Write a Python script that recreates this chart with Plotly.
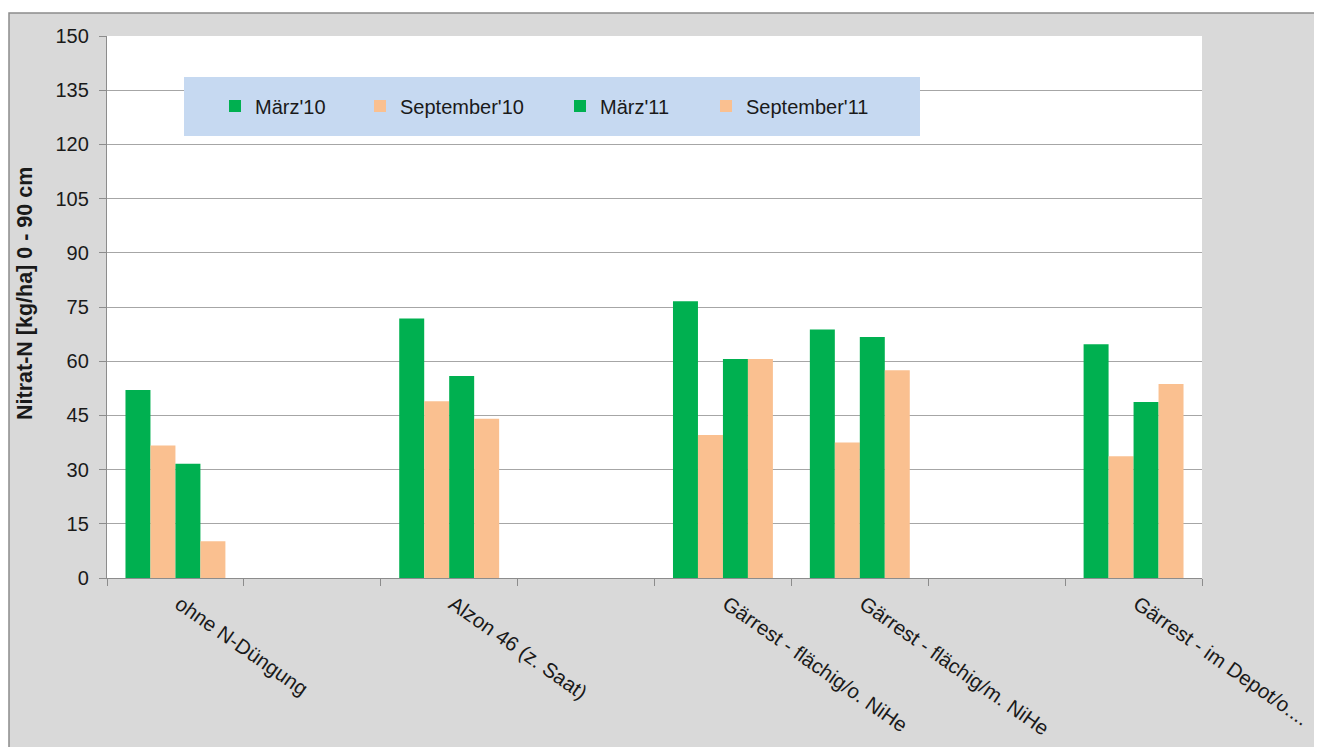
import plotly.graph_objects as go

categories = ["ohne N-Düngung", " ", "Alzon 46 (z. Saat)", "  ",
              "Gärrest - flächig/o. NiHe", "Gärrest - flächig/m. NiHe", "   ",
              "Gärrest - im Depot/o...."]
data_categories = ["ohne N-Düngung", "Alzon 46 (z. Saat)",
                   "Gärrest - flächig/o. NiHe", "Gärrest - flächig/m. NiHe",
                   "Gärrest - im Depot/o...."]
series_names = ["März'10", "September'10", "März'11", "September'11"]
maerz10 = [52.0, 71.8, 76.6, 68.8, 64.7]
sept10 = [36.7, 48.9, 39.6, 37.5, 33.7]
maerz11 = [31.6, 55.9, 60.6, 66.7, 48.7]
sept11 = [10.2, 44.1, 60.6, 57.5, 53.7]
series_values = [maerz10, sept10, maerz11, sept11]
series_colors = ["#00b050", "#fac090", "#00b050", "#fac090"]
y_ticks = [0, 15, 30, 45, 60, 75, 90, 105, 120, 135, 150]

OFF = 8  # page body margin
W, H = 1322 - OFF, 747 - OFF
L, R, T, B = 107 - OFF, 1202 - OFF, 36 - OFF, 578 - OFF

fig = go.Figure()
legend_ids = ["legend", "legend2", "legend3", "legend4"]
legend_px = [236, 381, 581, 727]
for name, vals, col, lid in zip(series_names, series_values, series_colors, legend_ids):
    fig.add_trace(go.Bar(x=data_categories, y=vals, name=name,
                         marker=dict(color=col, line=dict(width=0)),
                         legend=lid, showlegend=True))

def px_to_paper_x(px):
    return (px - OFF - L) / (R - L)

def px_to_paper_y(py):
    return (B - (py - OFF)) / (B - T)

legend_kw = {}
for lid, pxc in zip(legend_ids, legend_px):
    legend_kw[lid] = dict(xref="paper", yref="paper",
                          x=px_to_paper_x(pxc - 21), y=px_to_paper_y(106),
                          xanchor="left", yanchor="middle",
                          bgcolor="rgba(0,0,0,0)", borderwidth=0,
                          font=dict(family="Liberation Sans, Arial", size=20, color="#1a1a1a"),
                          orientation="h", visible=True)

grid_col = "#a6a6a6"
fig.update_layout(
    width=W, height=H,
    margin=dict(l=L, r=W - R, t=T, b=H - B, autoexpand=False),
    paper_bgcolor="white",
    plot_bgcolor="white",
    barmode="group",
    bargap=0.27,
    bargroupgap=0,
    showlegend=True,
    font=dict(family="Liberation Sans, Arial", color="#1a1a1a"),
    xaxis=dict(type="category", categoryorder="array", categoryarray=categories,
               range=[-0.5, 7.5], tickson="boundaries", ticks="outside", ticklen=7,
               tickcolor="#8c8c8c", showline=True, linecolor="#8c8c8c", linewidth=1.3,
               showgrid=False, tickangle=35, ticklabelshift=4, ticklabelstandoff=5,
               tickfont=dict(family="Liberation Sans, Arial", size=20.5, color="#1a1a1a")),
    yaxis=dict(range=[0, 150], tickvals=y_ticks, ticks="outside", ticklen=7,
               tickcolor="#8c8c8c", showline=True, linecolor="#8c8c8c", linewidth=1.3,
               gridcolor=grid_col, gridwidth=1.3, zeroline=False, ticklabelstandoff=6,
               tickfont=dict(family="Liberation Sans, Arial", size=20, color="#1a1a1a")),
    shapes=[
        dict(type="rect", xref="paper", yref="paper",
             x0=px_to_paper_x(9), x1=px_to_paper_x(1320),
             y0=px_to_paper_y(770), y1=px_to_paper_y(13),
             fillcolor="#d9d9d9", line=dict(color="#8c8c8c", width=1.5), layer="below"),
        dict(type="rect", xref="paper", yref="paper", x0=0, x1=1, y0=0, y1=1,
             fillcolor="white", line=dict(width=0), layer="below"),
        dict(type="rect", xref="paper", yref="paper",
             x0=px_to_paper_x(184), x1=px_to_paper_x(920),
             y0=px_to_paper_y(136), y1=px_to_paper_y(77),
             fillcolor="#c6d9f1", line=dict(width=0), layer="above"),
    ],
    annotations=[
        dict(text="<b>Nitrat-N [kg/ha] 0 - 90 cm</b>", xref="paper", yref="paper",
             x=px_to_paper_x(25), y=px_to_paper_y(294), textangle=-90,
             showarrow=False, font=dict(family="Liberation Sans, Arial", size=21.5, color="#1a1a1a"),
             xanchor="center", yanchor="middle"),
    ],
    **legend_kw,
)

fig.write_html("out.html")
